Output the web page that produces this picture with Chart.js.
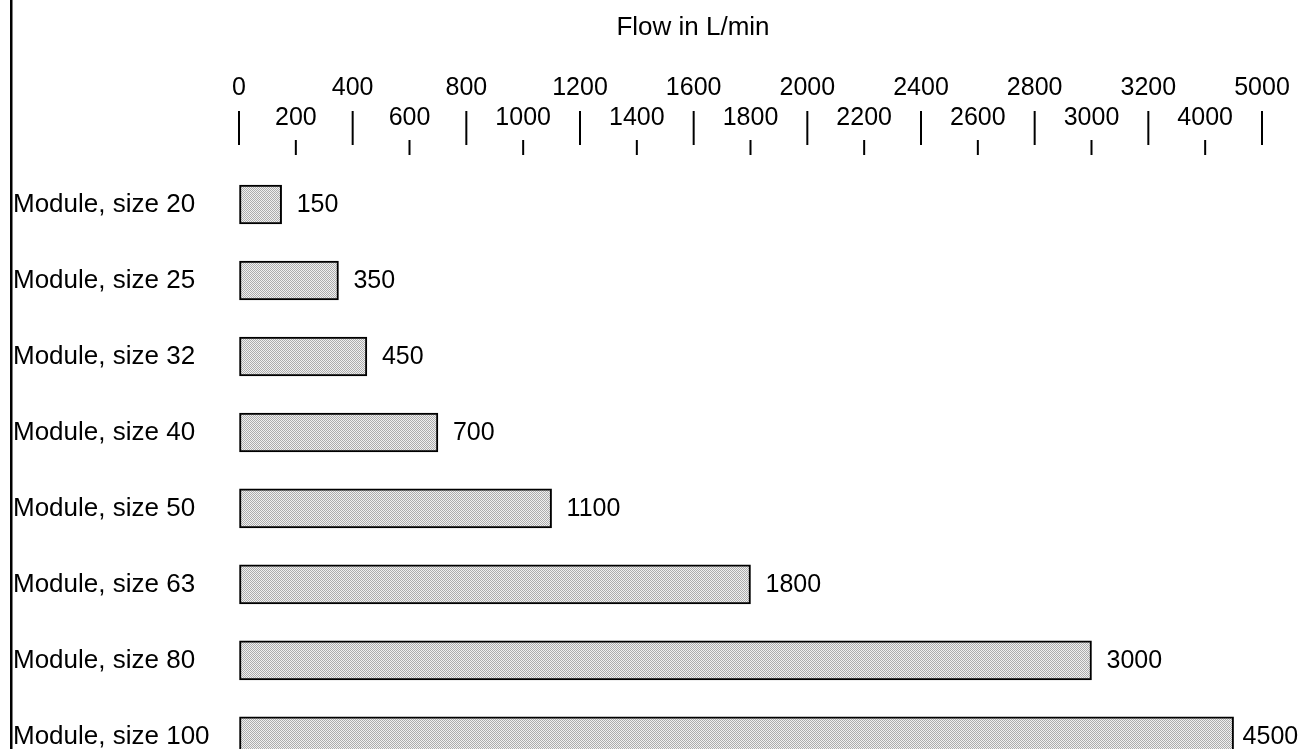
<!DOCTYPE html>
<html>
<head>
<meta charset="utf-8">
<script src="https://cdn.jsdelivr.net/npm/chart.js@4/dist/chart.umd.min.js"></script>
<style>
  html, body { margin: 0; padding: 0; background: #fff; overflow: hidden; }
  #wrap { position: relative; width: 1308px; height: 790px; }
</style>
</head>
<body>
<div id="wrap"><canvas id="myChart"></canvas></div>
<script>
// data
const categories = ['Module, size 20', 'Module, size 25', 'Module, size 32', 'Module, size 40',
  'Module, size 50', 'Module, size 63', 'Module, size 80', 'Module, size 100'];
const flow = [150, 350, 450, 700, 1100, 1800, 3000, 4500];
// axis ticks are evenly spaced but the values jump after 3200
const tickValues = [0, 200, 400, 600, 800, 1000, 1200, 1400, 1600, 1800, 2000,
  2200, 2400, 2600, 2800, 3000, 3200, 4000, 5000];
const tickLabels = tickValues.map(v => String(v));
const axisTitle = 'Flow in L/min';

const FONT = "'Liberation Sans', Arial, Helvetica, sans-serif";

// linear scale that is linear between each pair of ticks
class StepScale extends Chart.LinearScale {
  determineDataLimits() {
    this.min = tickValues[0];
    this.max = tickValues[tickValues.length - 1];
  }
  buildTicks() {
    return tickValues.map(v => ({ value: v }));
  }
  getPixelForValue(value) {
    const n = tickValues.length - 1;
    let i = 0;
    while (i < n - 1 && value > tickValues[i + 1]) i++;
    const t = (i + (value - tickValues[i]) / (tickValues[i + 1] - tickValues[i])) / n;
    return this.getPixelForDecimal(t);
  }
  getValueForPixel(pixel) {
    const n = tickValues.length - 1;
    const d = this.getDecimalForPixel(pixel) * n;
    const i = Math.max(0, Math.min(n - 1, Math.floor(d)));
    return tickValues[i] + (d - i) * (tickValues[i + 1] - tickValues[i]);
  }
}
StepScale.id = 'stepLinear';
StepScale.defaults = Chart.LinearScale.defaults;
Chart.register(StepScale);

// dithered grey fill like the print
const pat = document.createElement('canvas');
pat.width = 2; pat.height = 2;
const pctx = pat.getContext('2d');
pctx.fillStyle = '#f0f0f0'; pctx.fillRect(0, 0, 2, 2);
pctx.fillStyle = '#acacac'; pctx.fillRect(0, 0, 1, 1); pctx.fillRect(1, 1, 1, 1);
const barFill = pctx.createPattern(pat, 'repeat');

const decorations = {
  id: 'decorations',
  afterDraw(chart) {
    const ctx = chart.ctx;
    const x = chart.scales.x;
    ctx.save();
    // left rule
    ctx.fillStyle = '#000';
    ctx.fillRect(10, 0, 2.5, chart.height);
    // title
    ctx.font = '26px ' + FONT;
    ctx.textAlign = 'center';
    ctx.textBaseline = 'middle';
    ctx.fillText(axisTitle, 693, 28);
    // tick marks, long for the upper row, short for the lower row
    ctx.strokeStyle = '#000';
    ctx.lineWidth = 2;
    x.ticks.forEach((t, i) => {
      const px = x.getPixelForTick(i);
      ctx.beginPath();
      if (i % 2 === 0) {
        ctx.moveTo(px, 111); ctx.lineTo(px, 145);
      } else {
        ctx.moveTo(px, 140); ctx.lineTo(px, 155);
      }
      ctx.stroke();
    });
    ctx.restore();
  },
  afterDatasetsDraw(chart) {
    const ctx = chart.ctx;
    const meta = chart.getDatasetMeta(0);
    ctx.save();
    ctx.fillStyle = '#000';
    ctx.font = '25px ' + FONT;
    ctx.textAlign = 'left';
    ctx.textBaseline = 'middle';
    meta.data.forEach((bar, i) => {
      // the last label sits tighter to its bar in the print
      const gap = i === flow.length - 1 ? 9 : 15;
      ctx.fillText(String(flow[i]), bar.x + gap, bar.y + 1);
    });
    ctx.restore();
  }
};

const ctx = document.getElementById('myChart');
const myChart = new Chart(ctx, {
  type: 'bar',
  data: {
    labels: categories,
    datasets: [
      {
        label: 'Flow',
        data: flow,
        backgroundColor: barFill,
        borderColor: '#000',
        borderWidth: 2,
        borderSkipped: false,
        barThickness: 39
      }
    ]
  },
  options: {
    indexAxis: 'y',
    responsive: true,
    maintainAspectRatio: false,
    animation: false,
    layout: { padding: { left: 13, top: 0, right: 46, bottom: 15.5 } },
    plugins: {
      legend: { display: false },
      tooltip: { enabled: false }
    },
    scales: {
      x: {
        type: 'stepLinear',
        position: 'top',
        // invisible tick marks only push the labels up; visible ones come from the plugin
        grid: { display: true, drawOnChartArea: false, drawTicks: true, tickLength: 33, color: 'rgba(0,0,0,0)' },
        border: { display: false },
        ticks: {
          autoSkip: false,
          maxRotation: 0,
          padding: 0,
          color: '#000',
          font: { family: FONT, size: 25, lineHeight: 1.2 },
          callback: (value, index) => index % 2 === 0 ? [tickLabels[index], ''] : ['', tickLabels[index]]
        },
        afterFit: (scale) => { scale.height = 166.5; }
      },
      y: {
        grid: { display: false, drawTicks: false },
        border: { display: false },
        ticks: {
          crossAlign: 'far',
          padding: 0,
          color: '#000',
          font: { family: FONT, size: 26 }
        },
        afterFit: (scale) => { scale.width = 226; }
      }
    }
  },
  plugins: [decorations]
});
</script>
</body>
</html>
